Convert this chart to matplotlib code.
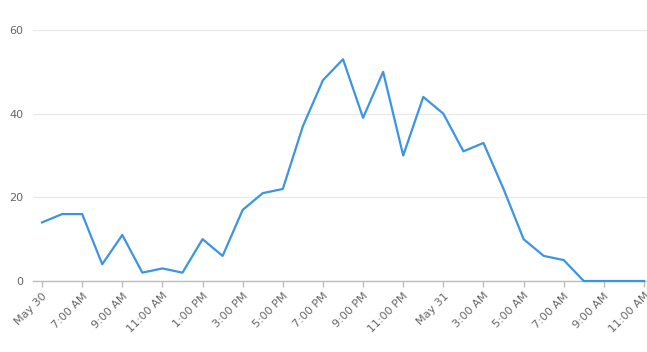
import matplotlib.pyplot as plt
import numpy as np

# hourly counts, May 30 5:00 AM .. May 31 11:00 AM
counts = [14, 16, 16, 4, 11, 2, 3, 2, 10, 6, 17, 21, 22, 37, 48, 53, 39, 50,
          30, 44, 40, 31, 33, 22, 10, 6, 5, 0, 0, 0, 0]
tick_labels = ["May 30", "7:00 AM", "9:00 AM", "11:00 AM", "1:00 PM", "3:00 PM",
               "5:00 PM", "7:00 PM", "9:00 PM", "11:00 PM", "May 31", "3:00 AM",
               "5:00 AM", "7:00 AM", "9:00 AM", "11:00 AM"]
y_ticks = [0, 20, 40, 60]

hours = np.arange(len(counts))

fig = plt.figure(figsize=(6.47, 3.52), dpi=100)
ax = fig.add_axes([33 / 647, 71 / 352, 614 / 647, 251 / 352])

ax.plot(hours, counts, color="#3b94e6", linewidth=1.6, clip_on=False, zorder=3)

ax.set_xlim(-0.45, 30.15)
ax.set_ylim(0, 60)
ax.set_yticks(y_ticks)
ax.set_xticks(np.arange(0, len(counts), 2))
ax.set_xticklabels(tick_labels, rotation=45, ha="right", rotation_mode="anchor")

ax.yaxis.grid(True, color="#e8e8e8", linewidth=0.9)
ax.set_axisbelow(True)
for side in ["top", "right", "left"]:
    ax.spines[side].set_visible(False)
ax.spines["bottom"].set_color("#bdbdbd")
ax.spines["bottom"].set_linewidth(1.0)

ax.tick_params(axis="y", length=0, pad=7, labelsize=8, labelcolor="#666666")
ax.tick_params(axis="x", length=4, width=1.0, color="#bdbdbd", pad=3,
               labelsize=8, labelcolor="#666666")

fig.savefig("out.png", dpi=100)
